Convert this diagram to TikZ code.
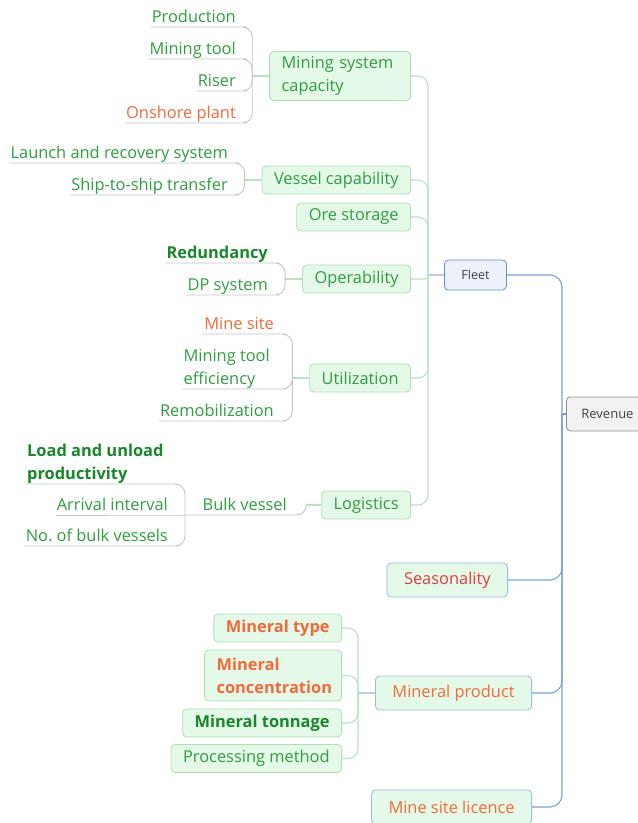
\documentclass[tikz,border=0pt]{standalone}
\usepackage{fontspec}
\setmainfont{Open Sans}
\usepackage{tikz}
\usetikzlibrary{positioning}
\frenchspacing
\definecolor{gtext}{HTML}{2E9E3F}
\definecolor{dgtext}{HTML}{17872A}
\definecolor{otext}{HTML}{F26A3A}
\definecolor{redtext}{HTML}{E63B3B}
\definecolor{darktext}{HTML}{404040}
\definecolor{topicfill}{HTML}{E4F9E7}
\definecolor{topicedge}{HTML}{AEDFB6}
\definecolor{revedge}{HTML}{9CBCE4}
\definecolor{trunkgreen}{HTML}{B9E2C3}
\definecolor{leafgray}{HTML}{C4C4C4}
\definecolor{trunkblue}{HTML}{7AA2D8}
\definecolor{linkblue}{HTML}{B6CDEB}
\definecolor{fleetfill}{HTML}{EDF2FA}
\definecolor{fleetedge}{HTML}{5E90D2}
\definecolor{rootfill}{HTML}{F2F2F2}
\definecolor{rootedge}{HTML}{8C8C8C}

\begin{document}
\begin{tikzpicture}[
 x=1pt,y=-1pt,
 font=\fontsize{16.4}{22.8}\selectfont,
 topic/.style={draw=topicedge,fill=topicfill,rounded corners=4pt,line width=0.8pt,inner xsep=12pt,inner ysep=4pt,minimum height=28pt,text=gtext},
 revtopic/.style={topic,draw=revedge,minimum height=34pt,inner xsep=17pt},
 root/.style={draw=rootedge,fill=rootfill,rounded corners=4pt,line width=0.8pt,inner xsep=15pt,minimum height=34pt,text=darktext,font=\fontsize{13}{16}\selectfont},
 hub/.style={draw=fleetedge,fill=fleetfill,rounded corners=4pt,line width=0.8pt,inner xsep=17pt,minimum height=30pt,text=darktext,font=\fontsize{12.5}{15}\selectfont},
 leaf/.style={inner xsep=1pt,inner ysep=1pt,text depth=3.5pt,text=gtext,anchor=south east},
 strong/.style={font=\fontsize{16.4}{22.8}\selectfont\bfseries},
 trunk/.style={draw=trunkgreen,line width=1.1pt,rounded corners=10pt},
 revconn/.style={draw=trunkblue,line width=1.1pt,rounded corners=12pt},
 link/.style={draw=linkblue,line width=1.1pt},
 leafline/.style={draw=leafgray,line width=0.9pt,rounded corners=10pt}
]
\useasboundingbox (0,0) rectangle (638,823);

% central topics
\node[root,anchor=west] (rev) at (566,414) {Revenue};
\node[hub,anchor=west] (fleet) at (444,275) {Fleet};

% fleet branch
\node[topic,anchor=east,text width=117pt,align=left,minimum height=49pt] (mscap) at (411,76) {Mining system\\capacity};
\node[topic,anchor=east] (vescap) at (411,180) {Vessel capability};
\node[topic,anchor=east] (ore) at (411,217) {Ore storage};
\node[topic,anchor=east] (oper) at (411,279) {Operability};
\node[topic,anchor=east] (util) at (411,378) {Utilization};
\node[topic,anchor=east] (logi) at (411,505) {Logistics};

% revenue branch
\node[revtopic,anchor=east,text=redtext] (seas) at (508,580) {Seasonality};
\node[revtopic,anchor=east,text=otext] (mprod) at (532,693) {Mineral product};
\node[revtopic,anchor=east,text=otext] (msl) at (532,807) {Mine site licence};

% mineral product
\node[topic,anchor=east,strong,text=otext] (mtype) at (342,628) {Mineral type};
\node[topic,anchor=east,strong,text=otext,text width=113pt,align=left,minimum height=51pt] (mconc) at (342,675.5) {Mineral\\concentration};
\node[topic,anchor=east,strong,text=dgtext] (mton) at (342,723) {Mineral tonnage};
\node[topic,anchor=east] (procm) at (342,758.5) {Processing method};

% leaves
\node[leaf] (prod) at (237,27) {Production};
\node[leaf] (mtool) at (237,59) {Mining tool};
\node[leaf] (riser) at (237,91) {Riser};
\node[leaf,text=otext] (onsh) at (237,123) {Onshore plant};
\node[leaf] (lars) at (229,163) {Launch and recovery system};
\node[leaf] (sts) at (229,195) {Ship-to-ship transfer};
\node[leaf,strong,text=dgtext] (redun) at (269,263) {Redundancy};
\node[leaf] (dps) at (269,295) {DP system};
\node[leaf,text=otext] (msite) at (275,334) {Mine site};
\node[leaf,align=left] (mteff) at (271,389) {Mining tool\\efficiency};
\node[leaf] (remob) at (275,421) {Remobilization};
\node[leaf] (bulk) at (288,515) {Bulk vessel};
\node[leaf,strong,text=dgtext,align=left,anchor=south west] (luprod) at (26,484) {Load and unload\\productivity};
\node[leaf] (arrint) at (169,515) {Arrival interval};
\node[leaf] (nobulk) at (169,546) {No. of bulk vessels};

% revenue connectors
\coordinate (jr) at (562,414);
\draw[revconn] (rev.west) -- (jr);
\foreach \n in {fleet,seas,mprod,msl} \draw[revconn] (jr) |- (\n.east);

% fleet connectors
\coordinate (jf) at (428,275);
\draw[link] (fleet.west) -- (jf);
\foreach \n in {mscap,vescap,ore,util,logi} \draw[trunk] (jf) |- (\n.east);
\draw[trunk,rounded corners=3pt] (jf) |- (oper.east);

% mineral product connectors
\coordinate (jm) at (358,693);
\draw[link] (mprod.west) -- (jm);
\foreach \n in {mtype,mconc,mton,procm} \draw[trunk] (jm) |- (\n.east);

% leaf brackets
\draw[trunk] (mscap.west) -- ++(-17,0) coordinate (j1);
\foreach \n in {prod,mtool,riser,onsh} \draw[leafline] (j1) |- (\n.south east) -- (\n.south west);
\draw[trunk] (vescap.west) -- ++(-17,0) coordinate (j2);
\foreach \n in {lars,sts} \draw[leafline] (j2) |- (\n.south east) -- (\n.south west);
\draw[trunk] (oper.west) -- ++(-17,0) coordinate (j3);
\foreach \n in {redun,dps} \draw[leafline] (j3) |- (\n.south east) -- (\n.south west);
\draw[trunk] (util.west) -- ++(-17,0) coordinate (j4);
\foreach \n in {msite,mteff,remob} \draw[leafline] (j4) |- (\n.south east) -- (\n.south west);
\draw[trunk] (logi.west) -- ++(-15,0) coordinate (j5);
\coordinate (j6) at (185,515);
\draw[leafline] (j5) |- (bulk.south east) -- (j6);
\foreach \n in {luprod,nobulk} \draw[leafline] (j6) |- (\n.south east) -- (\n.south west);
\draw[leafline] (j6) -- (arrint.south east) -- (arrint.south west);
\end{tikzpicture}
\end{document}
